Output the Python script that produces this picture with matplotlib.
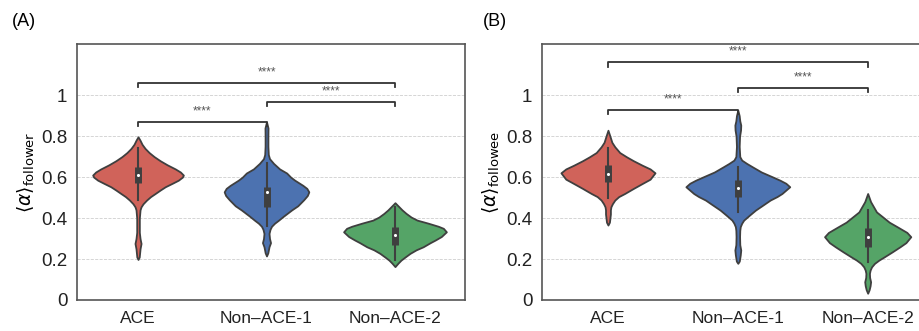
import numpy as np
import matplotlib.pyplot as plt

plt.rcParams['font.family'] = ['Liberation Sans', 'DejaVu Sans']

categories = ['ACE', 'Non\u2013ACE-1', 'Non\u2013ACE-2']
colors = ['#d0635a', '#4c72b0', '#55a467']
ylabels = [r'$\langle\alpha\rangle_{\mathrm{follower}}$', r'$\langle\alpha\rangle_{\mathrm{followee}}$']
panel_names = ['(A)', '(B)']

# violin outlines: value level -> relative half width
a_ace_lvl = [0.198, 0.21, 0.25, 0.276, 0.30, 0.33, 0.40, 0.44, 0.455, 0.47, 0.488, 0.505, 0.52, 0.537,
             0.553, 0.57, 0.585, 0.60, 0.61, 0.625, 0.64, 0.66, 0.68, 0.70, 0.72, 0.74, 0.76, 0.78, 0.797]
a_ace_wid = [0, 1.2, 2, 3, 2, 1.3, 1.3, 2, 3, 5, 8.5, 12.5, 17, 22,
             27, 34, 40, 44, 45, 42, 37, 29, 22, 16, 11, 7, 4, 2, 0]
a_n1_lvl = [0.215, 0.23, 0.26, 0.28, 0.30, 0.325, 0.345, 0.36, 0.375, 0.39, 0.41, 0.44, 0.46, 0.49, 0.51,
            0.528, 0.545, 0.56, 0.585, 0.60, 0.62, 0.64, 0.667, 0.69, 0.71, 0.75, 0.80, 0.84, 0.87]
a_n1_wid = [0, 1.3, 2.5, 4, 3, 2.5, 3.5, 5, 8, 12, 17, 25, 31, 37, 40.5,
            42, 40, 36, 28, 24, 20, 13, 7, 3, 1.8, 1.4, 1.4, 1.5, 0]
a_n2_lvl = [0.163, 0.18, 0.195, 0.21, 0.228, 0.245, 0.26, 0.28, 0.293, 0.31, 0.333, 0.35, 0.36, 0.375,
            0.39, 0.405, 0.423, 0.44, 0.455, 0.475]
a_n2_wid = [0, 3, 6, 10, 15, 21, 28, 35, 40, 46, 51, 48, 43, 33,
            22, 16, 11, 7, 4, 0]

b_ace_lvl = [0.366, 0.38, 0.40, 0.42, 0.44, 0.455, 0.47, 0.488, 0.505, 0.52, 0.545, 0.569, 0.59, 0.621,
             0.64, 0.658, 0.68, 0.699, 0.72, 0.748, 0.77, 0.80, 0.829]
b_ace_wid = [0, 1.5, 2, 2.5, 2.5, 3, 4.5, 7, 11, 17, 26, 35, 43, 48,
             43, 35, 26, 19, 12, 7, 4, 2, 0]
b_n1_lvl = [0.179, 0.19, 0.22, 0.244, 0.27, 0.31, 0.34, 0.358, 0.375, 0.39, 0.415, 0.439, 0.465, 0.488,
            0.505, 0.52, 0.553, 0.57, 0.585, 0.602, 0.625, 0.65, 0.667, 0.683, 0.70, 0.75, 0.80, 0.83,
            0.854, 0.875, 0.90, 0.927]
b_n1_wid = [0, 1.5, 2.5, 3, 2, 1.8, 2, 2.5, 4, 6, 12, 18, 26, 33,
            40, 45, 53, 49, 43, 35, 24, 15, 9, 4, 2, 1.4, 1.8, 2.8,
            3, 2, 1.4, 0]
b_n2_lvl = [0.033, 0.05, 0.07, 0.089, 0.11, 0.13, 0.146, 0.162, 0.179, 0.195, 0.211, 0.235, 0.26, 0.28,
            0.309, 0.33, 0.358, 0.38, 0.407, 0.43, 0.455, 0.48, 0.52]
b_n2_wid = [0, 1.5, 2.5, 3, 2, 1.8, 2.5, 4, 7, 11.5, 17, 25, 33, 39,
            44, 40, 30, 22, 15, 9, 6, 3, 0]

# inner box: whisker low/high, q1, median, q3
a_whisk_lo = [0.488, 0.36, 0.195]
a_whisk_hi = [0.74, 0.667, 0.455]
a_q1 = [0.569, 0.455, 0.27]
a_med = [0.61, 0.528, 0.317]
a_q3 = [0.65, 0.553, 0.358]
b_whisk_lo = [0.496, 0.431, 0.187]
b_whisk_hi = [0.74, 0.65, 0.439]
b_q1 = [0.577, 0.504, 0.26]
b_med = [0.614, 0.548, 0.309]
b_q3 = [0.658, 0.585, 0.35]

# significance brackets: (left, right, height)
a_pairs = [(0, 1, 0.87), (1, 2, 0.967), (0, 2, 1.06)]
b_pairs = [(0, 1, 0.927), (1, 2, 1.037), (0, 2, 1.16)]

panels = [
    dict(lvl=[a_ace_lvl, a_n1_lvl, a_n2_lvl], wid=[a_ace_wid, a_n1_wid, a_n2_wid],
         lo=a_whisk_lo, hi=a_whisk_hi, q1=a_q1, med=a_med, q3=a_q3, pairs=a_pairs,
         rect=[77 / 920, 31 / 331, 388 / 920, 256 / 331], xlim=(-0.475, 2.545)),
    dict(lvl=[b_ace_lvl, b_n1_lvl, b_n2_lvl], wid=[b_ace_wid, b_n1_wid, b_n2_wid],
         lo=b_whisk_lo, hi=b_whisk_hi, q1=b_q1, med=b_med, q3=b_q3, pairs=b_pairs,
         rect=[542 / 920, 31 / 331, 388 / 920, 256 / 331], xlim=(-0.508, 2.48)),
]

edge = '#3f3f3f'
fig = plt.figure(figsize=(9.2, 3.31), dpi=100)

for k, p in enumerate(panels):
    ax = fig.add_axes(p['rect'])
    wmax = max(max(w) for w in p['wid'])
    for i in range(len(categories)):
        lv = np.array(p['lvl'][i])
        hw = 0.4 * np.array(p['wid'][i]) / wmax
        ax.fill_betweenx(lv, i - hw, i + hw, facecolor=colors[i], edgecolor=edge, lw=1.3, zorder=2)
        ax.plot([i, i], [p['lo'][i], p['hi'][i]], color=edge, lw=1.5, zorder=3)
        ax.plot([i, i], [p['q1'][i], p['q3'][i]], color=edge, lw=5, solid_capstyle='butt', zorder=3)
        ax.scatter([i], [p['med'][i]], s=5, color='white', zorder=4, linewidths=0)

    for x1, x2, h in p['pairs']:
        ax.plot([x1, x1, x2, x2], [h - 0.02, h, h, h - 0.02], color='#333333', lw=1.3, zorder=3)
        ax.text((x1 + x2) / 2, h + 0.022, '****', ha='center', va='bottom', fontsize=8.5, color='#555555')

    ax.set_xlim(*p['xlim'])
    ax.set_ylim(0, 1.25)
    ax.set_xticks(range(len(categories)))
    ax.set_xticklabels(categories)
    ax.set_yticks([0, 0.2, 0.4, 0.6, 0.8, 1.0])
    ax.set_yticklabels(['0', '0.2', '0.4', '0.6', '0.8', '1'])
    ax.tick_params(axis='y', length=0, labelsize=13.5, pad=7, labelcolor='#222222')
    ax.tick_params(axis='x', length=0, labelsize=12.5, pad=8, labelcolor='#222222')
    ax.yaxis.grid(True, ls='--', color='#cfcfcf', lw=0.6)
    ax.set_axisbelow(True)
    for s in ax.spines.values():
        s.set_color('#555555')
        s.set_linewidth(1.2)
    ax.set_ylabel(ylabels[k], fontsize=13.5, labelpad=3)

fig.text(12 / 920, 1 - 21 / 331, panel_names[0], fontsize=13, va='center')
fig.text(483 / 920, 1 - 21 / 331, panel_names[1], fontsize=13, va='center')

fig.savefig('out.png', dpi=100)
